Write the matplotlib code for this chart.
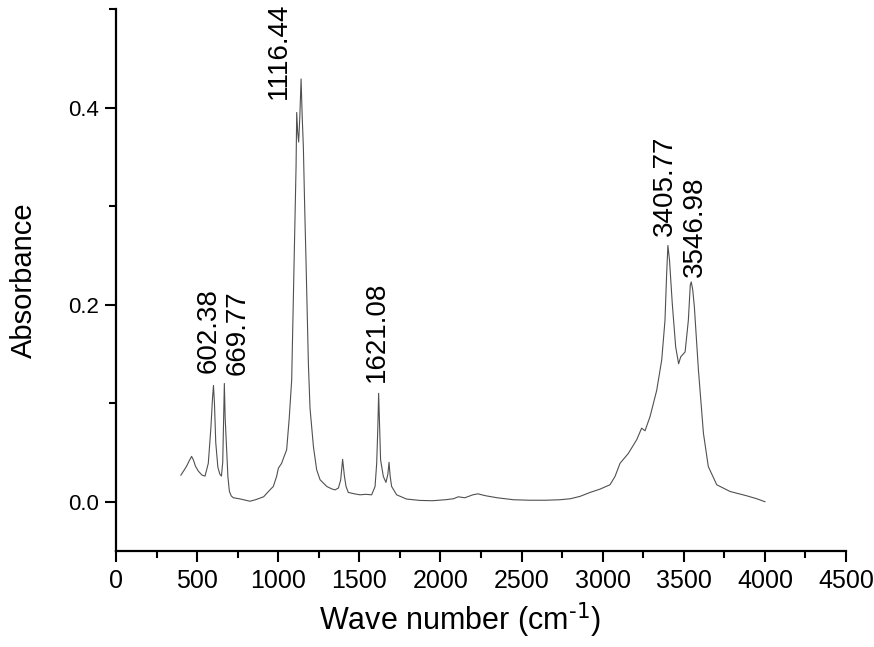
"""IR absorbance spectrum with labelled peaks."""
import matplotlib
matplotlib.use("Agg")
import matplotlib.pyplot as plt
from matplotlib.ticker import MultipleLocator, FormatStrFormatter

plt.rcParams["font.family"] = ["Liberation Sans", "DejaVu Sans"]

# spectrum
wavenumber = [
    400, 420, 435, 450, 466, 477, 490, 508, 530, 549, 569, 585, 595, 601, 607,
    615, 628, 640, 650, 658, 664, 668, 673, 682, 690, 699, 710, 723, 760, 800,
    826, 860, 888, 910, 949, 970, 990, 1001, 1021, 1032, 1052, 1068, 1083,
    1095, 1105, 1110, 1114, 1120, 1126, 1133, 1141, 1148, 1155, 1163, 1172,
    1180, 1186, 1196, 1217, 1237, 1258, 1299, 1330, 1350, 1371, 1385, 1397,
    1408, 1418, 1432, 1470, 1504, 1540, 1576, 1597, 1607, 1614, 1619, 1625,
    1631, 1648, 1664, 1676, 1683, 1690, 1699, 1730, 1791, 1874, 1950, 2030,
    2080, 2110, 2150, 2200, 2230, 2280, 2350, 2450, 2550, 2650, 2737, 2800,
    2860, 2922, 2984, 3045, 3076, 3107, 3158, 3210, 3240, 3261, 3292, 3333,
    3364, 3384, 3394, 3402, 3412, 3429, 3450, 3468, 3481, 3508, 3528, 3540,
    3546, 3555, 3565, 3590, 3621, 3651, 3703, 3785, 3888, 3950, 4000,
]
absorbance = [
    0.027, 0.032, 0.036, 0.041, 0.046, 0.0425, 0.036, 0.031, 0.027, 0.026,
    0.039, 0.075, 0.105, 0.118, 0.100, 0.060, 0.035, 0.028, 0.026, 0.040,
    0.090, 0.120, 0.085, 0.053, 0.025, 0.0105, 0.006, 0.004, 0.003, 0.0015,
    0.0005, 0.002, 0.0037, 0.005, 0.012, 0.0155, 0.0256, 0.034, 0.039, 0.044,
    0.0527, 0.085, 0.1235, 0.22, 0.30, 0.34, 0.395, 0.375, 0.365, 0.39, 0.429,
    0.39, 0.36, 0.30, 0.24, 0.18, 0.14, 0.095, 0.056, 0.0324, 0.0223,
    0.0155, 0.013, 0.012, 0.0139, 0.022, 0.043, 0.026, 0.0155, 0.0094, 0.008,
    0.007, 0.0075, 0.007, 0.0155, 0.039, 0.075, 0.110, 0.075, 0.0425, 0.0256,
    0.0196, 0.028, 0.040, 0.026, 0.0155, 0.007, 0.0027, 0.0013, 0.001, 0.002,
    0.003, 0.005, 0.004, 0.007, 0.008, 0.006, 0.004, 0.002, 0.0015, 0.0015,
    0.002, 0.003, 0.0054, 0.0094, 0.0128, 0.0172, 0.0256, 0.039, 0.049, 0.063,
    0.0746, 0.072, 0.0864, 0.113, 0.144, 0.184, 0.230, 0.260, 0.245, 0.201,
    0.157, 0.140, 0.147, 0.152, 0.184, 0.220, 0.223, 0.215, 0.198, 0.134,
    0.0695, 0.0357, 0.0172, 0.0104, 0.006, 0.003, 0.000,
]

peak_labels = ["602.38", "669.77", "1116.44", "1621.08", "3405.77", "3546.98"]
label_x = [573, 752, 1005, 1609, 3384, 3569]
label_y = [0.131, 0.129, 0.409, 0.121, 0.270, 0.228]

fig = plt.figure(figsize=(8.74, 6.47), dpi=100)
ax = fig.add_axes([0.1327, 0.1484, 0.8353, 0.8377])

ax.plot(wavenumber, absorbance, color="#505050", linewidth=0.8)

for lab, lx, ly in zip(peak_labels, label_x, label_y):
    ax.text(lx, ly, lab, rotation=90, ha="center", va="bottom", fontsize=20)

ax.set_xlim(0, 4500)
ax.set_ylim(-0.05, 0.5)

ax.xaxis.set_major_locator(MultipleLocator(500))
ax.xaxis.set_minor_locator(MultipleLocator(250))
ax.yaxis.set_major_locator(MultipleLocator(0.2))
ax.yaxis.set_minor_locator(MultipleLocator(0.1))
ax.yaxis.set_major_formatter(FormatStrFormatter("%.1f"))

for side in ["top", "right"]:
    ax.spines[side].set_visible(False)
for side in ["left", "bottom"]:
    ax.spines[side].set_linewidth(1.6)

ax.tick_params(which="major", direction="out", length=8, width=1.5)
ax.tick_params(which="minor", direction="out", length=4.8, width=1.5)
ax.tick_params(axis="y", labelsize=16, pad=4)
ax.tick_params(axis="x", labelsize=18, pad=5)

ax.set_xlabel(r"Wave number (cm$^{\text{-}1}$)", fontsize=22)
ax.xaxis.set_label_coords(0.471, -0.092)
ax.set_ylabel("Absorbance", fontsize=21, labelpad=22)

fig.savefig("out.png", dpi=100)
